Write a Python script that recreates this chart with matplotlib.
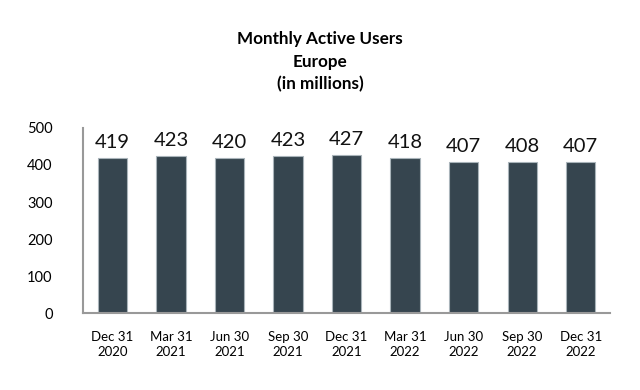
import matplotlib.pyplot as plt

plt.rcParams['font.family'] = ['Lato', 'DejaVu Sans']

quarters = ['Dec 31\n2020', 'Mar 31\n2021', 'Jun 30\n2021', 'Sep 30\n2021', 'Dec 31\n2021',
            'Mar 31\n2022', 'Jun 30\n2022', 'Sep 30\n2022', 'Dec 31\n2022']
mau = [419, 423, 420, 423, 427, 418, 407, 408, 407]
yticks = [0, 100, 200, 300, 400, 500]

fig = plt.figure(figsize=(6.4, 3.9), dpi=100)
ax = fig.add_axes([0.13, 0.197, 0.823, 0.475])

x = range(len(mau))
ax.bar(x, mau, width=0.5, color='#36454f', edgecolor='#a9b4ba', linewidth=0.8)
for xi, v in zip(x, mau):
    ax.text(xi, v + 19, str(v), ha='center', va='bottom', fontsize=14.5, color='#111111')

ax.set_xlim(-0.5, 8.5)
ax.set_ylim(0, 500)
ax.set_xticks(list(x))
ax.set_xticklabels(quarters, fontsize=9.5, linespacing=1.3)
ax.set_yticks(yticks)
ax.set_yticklabels([str(t) for t in yticks], fontsize=10.5)
ax.tick_params(axis='both', length=0)
ax.tick_params(axis='x', pad=13)
ax.tick_params(axis='y', pad=22)

for s in ['top', 'right']:
    ax.spines[s].set_visible(False)
for s in ['left', 'bottom']:
    ax.spines[s].set_color('#999999')
    ax.spines[s].set_linewidth(1.5)

fig.text(0.5, 0.841, 'Monthly Active Users\nEurope\n(in millions)', ha='center', va='center',
         fontsize=12.3, fontweight='bold', linespacing=1.5)

fig.savefig('out.png', dpi=100)
